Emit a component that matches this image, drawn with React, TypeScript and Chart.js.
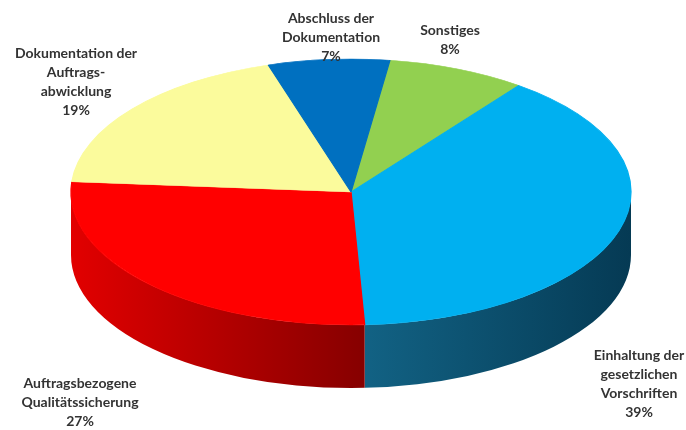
import React, { useEffect, useRef } from 'react';
import { Chart, registerables } from 'chart.js';

Chart.register(...registerables);

// ---- data ----
const categories = [
  'Sonstiges',
  'Einhaltung der gesetzlichen Vorschriften',
  'Auftragsbezogene Qualitätssicherung',
  'Dokumentation der Auftragsabwicklung',
  'Abschluss der Dokumentation',
];
const values = [8, 39, 27, 19, 7];
const labelLines = [
  ['Sonstiges'],
  ['Einhaltung der', 'gesetzlichen', 'Vorschriften'],
  ['Auftragsbezogene', 'Qualitätssicherung'],
  ['Dokumentation der', 'Auftrags-', 'abwicklung'],
  ['Abschluss der', 'Dokumentation'],
];

// ---- styles / layout ----
const topColors = ['#92d050', '#00b0f0', '#ff0000', '#fbfb9c', '#0070c0'];
const wallColors = [
  ['#5c8a2e', '#3f6620'],
  ['#126284', '#053a54'],
  ['#e20000', '#860000'],
  ['#b0b060', '#808040'],
  ['#004a80', '#003058'],
];
const labelPos = [
  [450, 30],
  [639, 355],
  [80, 383],
  [76, 53],
  [331, 18],
];
const LINE_H = 19;
const CX = 351;
const CY = 192;
const RX = 280;
const RY = 133;
const DEPTH = 63;
const ROTATION = 8;

const pie3d = {
  id: 'pie3d',
  beforeDatasetsDraw(chart: any) {
    const ctx = chart.ctx as CanvasRenderingContext2D;
    const arcs = chart.getDatasetMeta(0).data;
    if (!arcs.length) return;
    const { x, y, outerRadius } = arcs[0].getProps(['x', 'y', 'outerRadius'], true);
    // side walls
    arcs.forEach((arc: any, i: number) => {
      const { startAngle, endAngle } = arc.getProps(['startAngle', 'endAngle'], true);
      for (const k of [-2 * Math.PI, 0, 2 * Math.PI]) {
        const s = Math.max(startAngle, k);
        const e = Math.min(endAngle, k + Math.PI);
        if (e <= s) continue;
        const x1 = CX + RX * Math.cos(s);
        const x2 = CX + RX * Math.cos(e);
        const g = ctx.createLinearGradient(Math.min(x1, x2), 0, Math.max(x1, x2), 0);
        g.addColorStop(0, wallColors[i][0]);
        g.addColorStop(1, wallColors[i][1]);
        ctx.save();
        ctx.fillStyle = g;
        ctx.beginPath();
        ctx.ellipse(CX, CY, RX, RY, 0, s, e);
        ctx.ellipse(CX, CY + DEPTH, RX, RY, 0, e, s, true);
        ctx.closePath();
        ctx.fill();
        ctx.restore();
      }
    });
    // flatten the pie into an ellipse
    ctx.save();
    ctx.translate(CX, CY);
    ctx.scale(RX / outerRadius, RY / outerRadius);
    ctx.translate(-x, -y);
  },
  afterDatasetsDraw(chart: any) {
    chart.ctx.restore();
  },
  afterDraw(chart: any) {
    const ctx = chart.ctx as CanvasRenderingContext2D;
    ctx.save();
    ctx.font = 'bold 14px Lato, "Open Sans", sans-serif';
    ctx.fillStyle = '#333333';
    ctx.textAlign = 'center';
    ctx.textBaseline = 'middle';
    labelLines.forEach((lines, i) => {
      const all = [...lines, `${values[i]}%`];
      const [lx, ly] = labelPos[i];
      all.forEach((t, j) => ctx.fillText(t, lx, ly + j * LINE_H));
    });
    ctx.restore();
  },
};

export default function App() {
  const ref = useRef<HTMLCanvasElement>(null);
  useEffect(() => {
    document.body.style.margin = '0';
    const chart = new Chart(ref.current as HTMLCanvasElement, {
      type: 'pie',
      data: {
        labels: categories,
        datasets: [
          {
            data: values,
            backgroundColor: topColors,
            borderColor: topColors,
            borderWidth: 1,
            clip: false as any,
          },
        ],
      },
      options: {
        responsive: false,
        animation: false,
        events: [],
        rotation: ROTATION,
        plugins: {
          legend: { display: false },
          tooltip: { enabled: false },
        },
      },
      plugins: [pie3d],
    });
    return () => chart.destroy();
  }, []);
  return (
    <div style={{ width: 686, height: 430, background: '#fff' }}>
      <canvas ref={ref} width={686} height={430} style={{ display: 'block' }} />
    </div>
  );
}
